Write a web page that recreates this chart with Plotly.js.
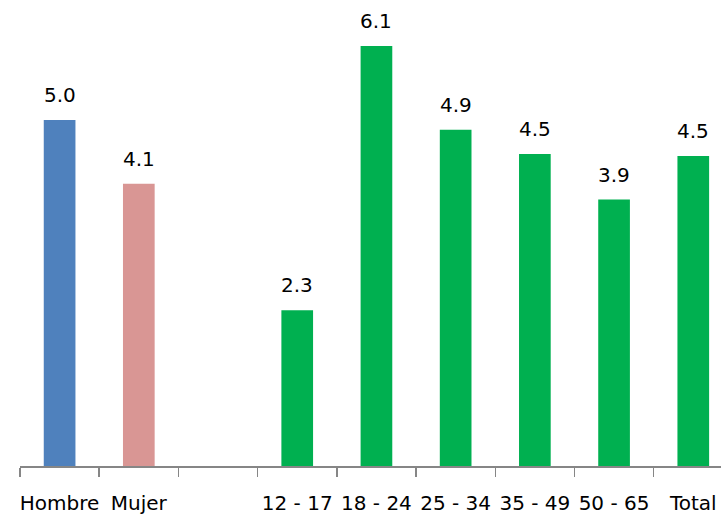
<!DOCTYPE html>
<html>
<head>
<meta charset="utf-8">
<script src="https://cdn.plot.ly/plotly-3.0.1.min.js"></script>
<style>html,body{margin:0;padding:0;background:#fff;}#chart{width:721px;height:514px;}</style>
</head>
<body>
<div id="chart"></div>
<script>
const categories = ["Hombre", "Mujer", " ", "12 - 17", "18 - 24", "25 - 34", "35 - 49", "50 - 65", "Total"];
const values = [5.0, 4.08, null, 2.25, 6.07, 4.86, 4.51, 3.85, 4.48];
const barColors = ["#4F81BD", "#D99694", "#00B050", "#00B050", "#00B050", "#00B050", "#00B050", "#00B050", "#00B050"];

const trace = {
  type: "bar",
  x: categories,
  y: values,
  width: 0.4,
  marker: {color: barColors},
  hoverinfo: "none"
};

const annotations = [];
categories.forEach((c, i) => {
  if (values[i] === null) return;
  annotations.push({
    x: c, y: values[i], xref: "x", yref: "y",
    text: values[i].toFixed(1),
    showarrow: false, yanchor: "bottom", yshift: 11,
    font: {family: "DejaVu Sans", size: 20, color: "#000"}
  });
});

const layout = {
  width: 721, height: 514,
  margin: {l: 20, r: 0, t: 0, b: 48},
  paper_bgcolor: "#fff", plot_bgcolor: "#fff",
  showlegend: false,
  bargap: 0.6,
  xaxis: {
    type: "category",
    range: [-0.5, 8.35],
    tickson: "boundaries",
    ticks: "outside", ticklen: 9, tickwidth: 1.5, tickcolor: "#868686",
    showline: true, linecolor: "#868686", linewidth: 1.5,
    showgrid: false, zeroline: false,
    tickangle: 0,
    ticklabelstandoff: 18,
    tickfont: {family: "DejaVu Sans", size: 20, color: "#000"}
  },
  yaxis: {
    range: [0, 6.734],
    visible: false, showgrid: false, zeroline: false
  },
  annotations: annotations
};

Plotly.newPlot("chart", [trace], layout, {displayModeBar: false, staticPlot: true});
</script>
</body>
</html>
